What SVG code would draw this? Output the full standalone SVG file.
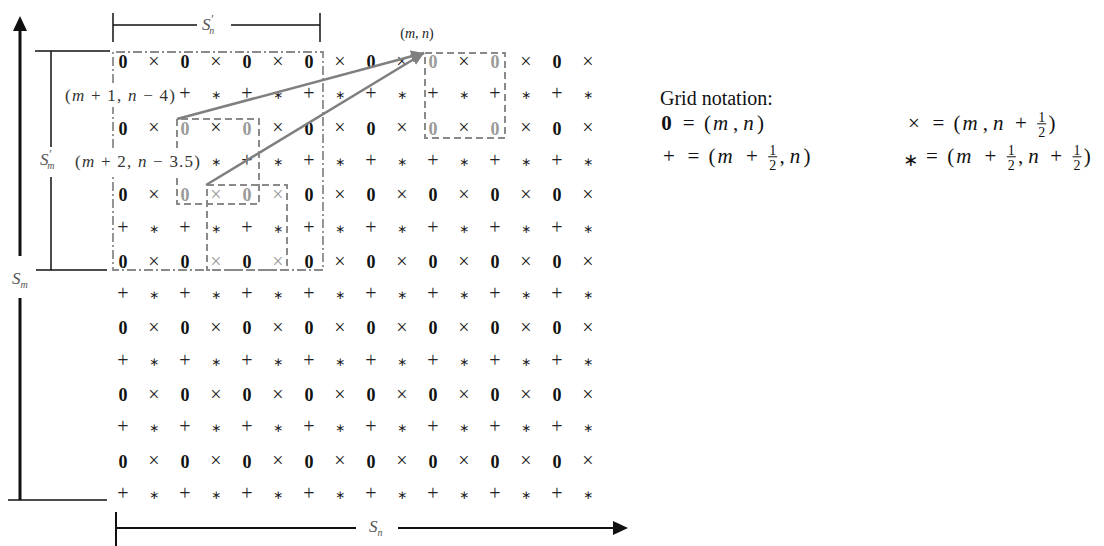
<svg xmlns="http://www.w3.org/2000/svg" width="1104" height="546" viewBox="0 0 1104 546">
<style>
text{font-family:"Liberation Serif",serif}
.o{font-weight:bold;font-size:18px;text-anchor:middle;fill:#111}
.x{font-size:20px;text-anchor:middle;fill:#222}
.p{font-size:20px;text-anchor:middle;fill:#222}
.s{font-family:"DejaVu Sans",sans-serif;font-size:12px;text-anchor:middle;fill:#222}
.gr{fill:#9a9a9a}
.box{fill:none;stroke:#8a8a8a;stroke-width:2;stroke-dasharray:7 4}
.dd{fill:none;stroke:#8a8a8a;stroke-width:1.8;stroke-dasharray:9 3 2 3}
.conn{stroke:#7f7f7f;stroke-width:2.5;fill:none;marker-end:url(#ah)}
.ax{stroke:#111;stroke-width:1.5;fill:none}
.lab{font-size:17px;fill:#333}
.sl{font-size:17px;font-style:italic;fill:#555}
.leg{font-size:21px;fill:#111}
.op{font-size:21px;fill:#111;text-anchor:middle}
.fr{font-size:14px;fill:#111;text-anchor:middle}
.bar{stroke:#111;stroke-width:1}
.i{font-style:italic}
</style>
<defs>
<marker id="ah" markerUnits="userSpaceOnUse" markerWidth="14" markerHeight="12" refX="13" refY="6" orient="auto">
<path d="M0,0 L13,6 L0,12 Z" fill="#7f7f7f"/>
</marker>
</defs>

<g id="axes">
<line x1="20" y1="500" x2="20" y2="298" stroke="#111" stroke-width="3"/>
<line x1="20" y1="256" x2="20" y2="28" stroke="#111" stroke-width="3"/>
<path d="M20,16 L27,31 L13,31 Z" fill="#111"/>
<line class="ax" x1="8" y1="500" x2="107" y2="500"/>
<line class="ax" x1="35" y1="51" x2="110" y2="51"/>
<line class="ax" x1="51" y1="51" x2="51" y2="147"/>
<line class="ax" x1="51" y1="177" x2="51" y2="270"/>
<line class="ax" x1="36" y1="270" x2="107" y2="270"/>
<line class="ax" x1="113" y1="13" x2="113" y2="42"/>
<line class="ax" x1="320" y1="13" x2="320" y2="42"/>
<line class="ax" x1="113" y1="25" x2="197" y2="25"/>
<line class="ax" x1="231" y1="25" x2="320" y2="25"/>
<line x1="116" y1="512" x2="116" y2="546" stroke="#111" stroke-width="2"/>
<line x1="116" y1="528" x2="356" y2="528" stroke="#111" stroke-width="2"/>
<line x1="398" y1="528" x2="616" y2="528" stroke="#111" stroke-width="2"/>
<path d="M628,528 L613,521 L613,535 Z" fill="#111"/>
<text class="sl" x="202" y="30">S<tspan font-size="12" dy="-7">′</tspan><tspan font-size="10" dx="-4" dy="11">n</tspan></text>
<text class="sl" x="40" y="165">S<tspan font-size="12" dy="-7">′</tspan><tspan font-size="10" dx="-4" dy="11">m</tspan></text>
<text class="sl" x="12" y="284">S<tspan font-size="10" dy="4">m</tspan></text>
<text class="sl" x="369" y="532">S<tspan font-size="10" dy="4">n</tspan></text>
</g>

<g id="grid">
<text class="o" x="123" y="68">0</text><text class="x" x="154" y="67.8">×</text><text class="o" x="185" y="68">0</text><text class="x" x="216" y="67.8">×</text><text class="o" x="247" y="68">0</text><text class="x" x="278" y="67.8">×</text><text class="o" x="309" y="68">0</text><text class="x" x="340" y="67.8">×</text><text class="o" x="371" y="68">0</text><text class="x" x="402" y="67.8">×</text><text class="o gr" x="433" y="68">0</text><text class="x" x="464" y="67.8">×</text><text class="o gr" x="495" y="68">0</text><text class="x" x="526" y="67.8">×</text><text class="o" x="557" y="68">0</text><text class="x" x="588" y="67.8">×</text>
<text class="p" x="185" y="100.3">+</text><text class="s" x="216" y="99.3">∗</text><text class="p" x="247" y="100.3">+</text><text class="s" x="278" y="99.3">∗</text><text class="p" x="309" y="100.3">+</text><text class="s" x="340" y="99.3">∗</text><text class="p" x="371" y="100.3">+</text><text class="s" x="402" y="99.3">∗</text><text class="p" x="433" y="100.3">+</text><text class="s" x="464" y="99.3">∗</text><text class="p" x="495" y="100.3">+</text><text class="s" x="526" y="99.3">∗</text><text class="p" x="557" y="100.3">+</text><text class="s" x="588" y="99.3">∗</text>
<text class="o" x="123" y="134.6">0</text><text class="x" x="154" y="134.4">×</text><text class="o gr" x="185" y="134.6">0</text><text class="x" x="216" y="134.4">×</text><text class="o gr" x="247" y="134.6">0</text><text class="x" x="278" y="134.4">×</text><text class="o" x="309" y="134.6">0</text><text class="x" x="340" y="134.4">×</text><text class="o" x="371" y="134.6">0</text><text class="x" x="402" y="134.4">×</text><text class="o gr" x="433" y="134.6">0</text><text class="x" x="464" y="134.4">×</text><text class="o gr" x="495" y="134.6">0</text><text class="x" x="526" y="134.4">×</text><text class="o" x="557" y="134.6">0</text><text class="x" x="588" y="134.4">×</text>
<text class="s" x="216" y="165.9">∗</text><text class="p" x="247" y="166.9">+</text><text class="s" x="278" y="165.9">∗</text><text class="p" x="309" y="166.9">+</text><text class="s" x="340" y="165.9">∗</text><text class="p" x="371" y="166.9">+</text><text class="s" x="402" y="165.9">∗</text><text class="p" x="433" y="166.9">+</text><text class="s" x="464" y="165.9">∗</text><text class="p" x="495" y="166.9">+</text><text class="s" x="526" y="165.9">∗</text><text class="p" x="557" y="166.9">+</text><text class="s" x="588" y="165.9">∗</text>
<text class="o" x="123" y="201.2">0</text><text class="x" x="154" y="201">×</text><text class="o gr" x="185" y="201.2">0</text><text class="x gr" x="216" y="201">×</text><text class="o gr" x="247" y="201.2">0</text><text class="x gr" x="278" y="201">×</text><text class="o" x="309" y="201.2">0</text><text class="x" x="340" y="201">×</text><text class="o" x="371" y="201.2">0</text><text class="x" x="402" y="201">×</text><text class="o" x="433" y="201.2">0</text><text class="x" x="464" y="201">×</text><text class="o" x="495" y="201.2">0</text><text class="x" x="526" y="201">×</text><text class="o" x="557" y="201.2">0</text><text class="x" x="588" y="201">×</text>
<text class="p" x="123" y="233.5">+</text><text class="s" x="154" y="232.5">∗</text><text class="p" x="185" y="233.5">+</text><text class="s" x="216" y="232.5">∗</text><text class="p" x="247" y="233.5">+</text><text class="s" x="278" y="232.5">∗</text><text class="p" x="309" y="233.5">+</text><text class="s" x="340" y="232.5">∗</text><text class="p" x="371" y="233.5">+</text><text class="s" x="402" y="232.5">∗</text><text class="p" x="433" y="233.5">+</text><text class="s" x="464" y="232.5">∗</text><text class="p" x="495" y="233.5">+</text><text class="s" x="526" y="232.5">∗</text><text class="p" x="557" y="233.5">+</text><text class="s" x="588" y="232.5">∗</text>
<text class="o" x="123" y="267.8">0</text><text class="x" x="154" y="267.6">×</text><text class="o" x="185" y="267.8">0</text><text class="x gr" x="216" y="267.6">×</text><text class="o" x="247" y="267.8">0</text><text class="x gr" x="278" y="267.6">×</text><text class="o" x="309" y="267.8">0</text><text class="x" x="340" y="267.6">×</text><text class="o" x="371" y="267.8">0</text><text class="x" x="402" y="267.6">×</text><text class="o" x="433" y="267.8">0</text><text class="x" x="464" y="267.6">×</text><text class="o" x="495" y="267.8">0</text><text class="x" x="526" y="267.6">×</text><text class="o" x="557" y="267.8">0</text><text class="x" x="588" y="267.6">×</text>
<text class="p" x="123" y="300.1">+</text><text class="s" x="154" y="299.1">∗</text><text class="p" x="185" y="300.1">+</text><text class="s" x="216" y="299.1">∗</text><text class="p" x="247" y="300.1">+</text><text class="s" x="278" y="299.1">∗</text><text class="p" x="309" y="300.1">+</text><text class="s" x="340" y="299.1">∗</text><text class="p" x="371" y="300.1">+</text><text class="s" x="402" y="299.1">∗</text><text class="p" x="433" y="300.1">+</text><text class="s" x="464" y="299.1">∗</text><text class="p" x="495" y="300.1">+</text><text class="s" x="526" y="299.1">∗</text><text class="p" x="557" y="300.1">+</text><text class="s" x="588" y="299.1">∗</text>
<text class="o" x="123" y="334.4">0</text><text class="x" x="154" y="334.2">×</text><text class="o" x="185" y="334.4">0</text><text class="x" x="216" y="334.2">×</text><text class="o" x="247" y="334.4">0</text><text class="x" x="278" y="334.2">×</text><text class="o" x="309" y="334.4">0</text><text class="x" x="340" y="334.2">×</text><text class="o" x="371" y="334.4">0</text><text class="x" x="402" y="334.2">×</text><text class="o" x="433" y="334.4">0</text><text class="x" x="464" y="334.2">×</text><text class="o" x="495" y="334.4">0</text><text class="x" x="526" y="334.2">×</text><text class="o" x="557" y="334.4">0</text><text class="x" x="588" y="334.2">×</text>
<text class="p" x="123" y="366.7">+</text><text class="s" x="154" y="365.7">∗</text><text class="p" x="185" y="366.7">+</text><text class="s" x="216" y="365.7">∗</text><text class="p" x="247" y="366.7">+</text><text class="s" x="278" y="365.7">∗</text><text class="p" x="309" y="366.7">+</text><text class="s" x="340" y="365.7">∗</text><text class="p" x="371" y="366.7">+</text><text class="s" x="402" y="365.7">∗</text><text class="p" x="433" y="366.7">+</text><text class="s" x="464" y="365.7">∗</text><text class="p" x="495" y="366.7">+</text><text class="s" x="526" y="365.7">∗</text><text class="p" x="557" y="366.7">+</text><text class="s" x="588" y="365.7">∗</text>
<text class="o" x="123" y="401">0</text><text class="x" x="154" y="400.8">×</text><text class="o" x="185" y="401">0</text><text class="x" x="216" y="400.8">×</text><text class="o" x="247" y="401">0</text><text class="x" x="278" y="400.8">×</text><text class="o" x="309" y="401">0</text><text class="x" x="340" y="400.8">×</text><text class="o" x="371" y="401">0</text><text class="x" x="402" y="400.8">×</text><text class="o" x="433" y="401">0</text><text class="x" x="464" y="400.8">×</text><text class="o" x="495" y="401">0</text><text class="x" x="526" y="400.8">×</text><text class="o" x="557" y="401">0</text><text class="x" x="588" y="400.8">×</text>
<text class="p" x="123" y="433.3">+</text><text class="s" x="154" y="432.3">∗</text><text class="p" x="185" y="433.3">+</text><text class="s" x="216" y="432.3">∗</text><text class="p" x="247" y="433.3">+</text><text class="s" x="278" y="432.3">∗</text><text class="p" x="309" y="433.3">+</text><text class="s" x="340" y="432.3">∗</text><text class="p" x="371" y="433.3">+</text><text class="s" x="402" y="432.3">∗</text><text class="p" x="433" y="433.3">+</text><text class="s" x="464" y="432.3">∗</text><text class="p" x="495" y="433.3">+</text><text class="s" x="526" y="432.3">∗</text><text class="p" x="557" y="433.3">+</text><text class="s" x="588" y="432.3">∗</text>
<text class="o" x="123" y="467.6">0</text><text class="x" x="154" y="467.4">×</text><text class="o" x="185" y="467.6">0</text><text class="x" x="216" y="467.4">×</text><text class="o" x="247" y="467.6">0</text><text class="x" x="278" y="467.4">×</text><text class="o" x="309" y="467.6">0</text><text class="x" x="340" y="467.4">×</text><text class="o" x="371" y="467.6">0</text><text class="x" x="402" y="467.4">×</text><text class="o" x="433" y="467.6">0</text><text class="x" x="464" y="467.4">×</text><text class="o" x="495" y="467.6">0</text><text class="x" x="526" y="467.4">×</text><text class="o" x="557" y="467.6">0</text><text class="x" x="588" y="467.4">×</text>
<text class="p" x="123" y="499.9">+</text><text class="s" x="154" y="498.9">∗</text><text class="p" x="185" y="499.9">+</text><text class="s" x="216" y="498.9">∗</text><text class="p" x="247" y="499.9">+</text><text class="s" x="278" y="498.9">∗</text><text class="p" x="309" y="499.9">+</text><text class="s" x="340" y="498.9">∗</text><text class="p" x="371" y="499.9">+</text><text class="s" x="402" y="498.9">∗</text><text class="p" x="433" y="499.9">+</text><text class="s" x="464" y="498.9">∗</text><text class="p" x="495" y="499.9">+</text><text class="s" x="526" y="498.9">∗</text><text class="p" x="557" y="499.9">+</text><text class="s" x="588" y="498.9">∗</text>
</g>

<g id="box-window">
<path class="dd" d="M113,83 L113,52 L323,52 L323,270 L113,270 L113,177 M113,148 L113,107"/>
</g>
<g id="box-mn">
<rect class="box" x="425" y="53" width="80" height="85"/>
</g>
<g id="box-m1">
<path class="box" d="M177,148 L177,119 L259,119 L259,204 L177,204 L177,178"/>
</g>
<g id="box-m2">
<rect class="box" x="207" y="185" width="80" height="85"/>
</g>

<g id="connectors">
<line class="conn" x1="177" y1="119" x2="424" y2="53"/>
<line class="conn" x1="206" y1="185" x2="424" y2="53"/>
</g>

<g id="labels">
<text class="lab" x="417" y="38" text-anchor="middle" style="font-size:14px;fill:#222">(<tspan class="i">m</tspan>, <tspan class="i">n</tspan>)</text>
<text class="lab" x="65" y="101" textLength="110" lengthAdjust="spacing">(<tspan class="i">m</tspan> + 1, <tspan class="i">n</tspan> − 4)</text>
<text class="lab" x="75" y="167" textLength="125" lengthAdjust="spacing">(<tspan class="i">m</tspan> + 2, <tspan class="i">n</tspan> − 3.5)</text>
</g>

<g id="legend">
<text class="leg" x="660" y="105" style="font-size:20px">Grid notation:</text>
<text class="op" x="666.6" y="130" font-weight="bold">0</text>
<text class="op" x="688.6" y="130">=</text>
<text class="leg" y="130"><tspan x="703.9">(</tspan><tspan class="i" x="712.9">m</tspan><tspan x="733">,</tspan><tspan class="i" x="743.3">n</tspan><tspan x="757.1">)</tspan></text>
<text class="op" x="914" y="130">×</text>
<text class="op" x="938.3" y="130">=</text>
<text class="leg" y="130"><tspan x="953.6">(</tspan><tspan class="i" x="962.6">m</tspan><tspan x="982.8">,</tspan><tspan class="i" x="993">n</tspan></text>
<text class="op" x="1020.9" y="130">+</text>
<text class="fr" x="1041.7" y="122">1</text><line class="bar" x1="1037.2" y1="123.8" x2="1046.2" y2="123.8"/><text class="fr" x="1041.7" y="136.5">2</text>
<text class="leg" x="1048.5" y="130">)</text>
<text class="op" x="669" y="163">+</text>
<text class="op" x="693.3" y="163">=</text>
<text class="leg" y="163"><tspan x="708.6">(</tspan><tspan class="i" x="717.6">m</tspan></text>
<text class="op" x="751.8" y="163">+</text>
<text class="fr" x="772.7" y="155">1</text><line class="bar" x1="768.2" y1="156.8" x2="777.2" y2="156.8"/><text class="fr" x="772.7" y="169.5">2</text>
<text class="leg" y="163"><tspan x="779.5">,</tspan><tspan class="i" x="789.7">n</tspan><tspan x="803.5">)</tspan></text>
<text class="op" x="910.8" y="166" style="font-family:'DejaVu Sans',sans-serif;font-size:18px">∗</text>
<text class="op" x="931.9" y="163">=</text>
<text class="leg" y="163"><tspan x="947.2">(</tspan><tspan class="i" x="956.2">m</tspan></text>
<text class="op" x="990.4" y="163">+</text>
<text class="fr" x="1011.3" y="155">1</text><line class="bar" x1="1006.8" y1="156.8" x2="1015.8" y2="156.8"/><text class="fr" x="1011.3" y="169.5">2</text>
<text class="leg" y="163"><tspan x="1018.1">,</tspan><tspan class="i" x="1028.3">n</tspan></text>
<text class="op" x="1056.2" y="163">+</text>
<text class="fr" x="1077" y="155">1</text><line class="bar" x1="1072.5" y1="156.8" x2="1081.5" y2="156.8"/><text class="fr" x="1077" y="169.5">2</text>
<text class="leg" x="1083.8" y="163">)</text>
</g>
</svg>
